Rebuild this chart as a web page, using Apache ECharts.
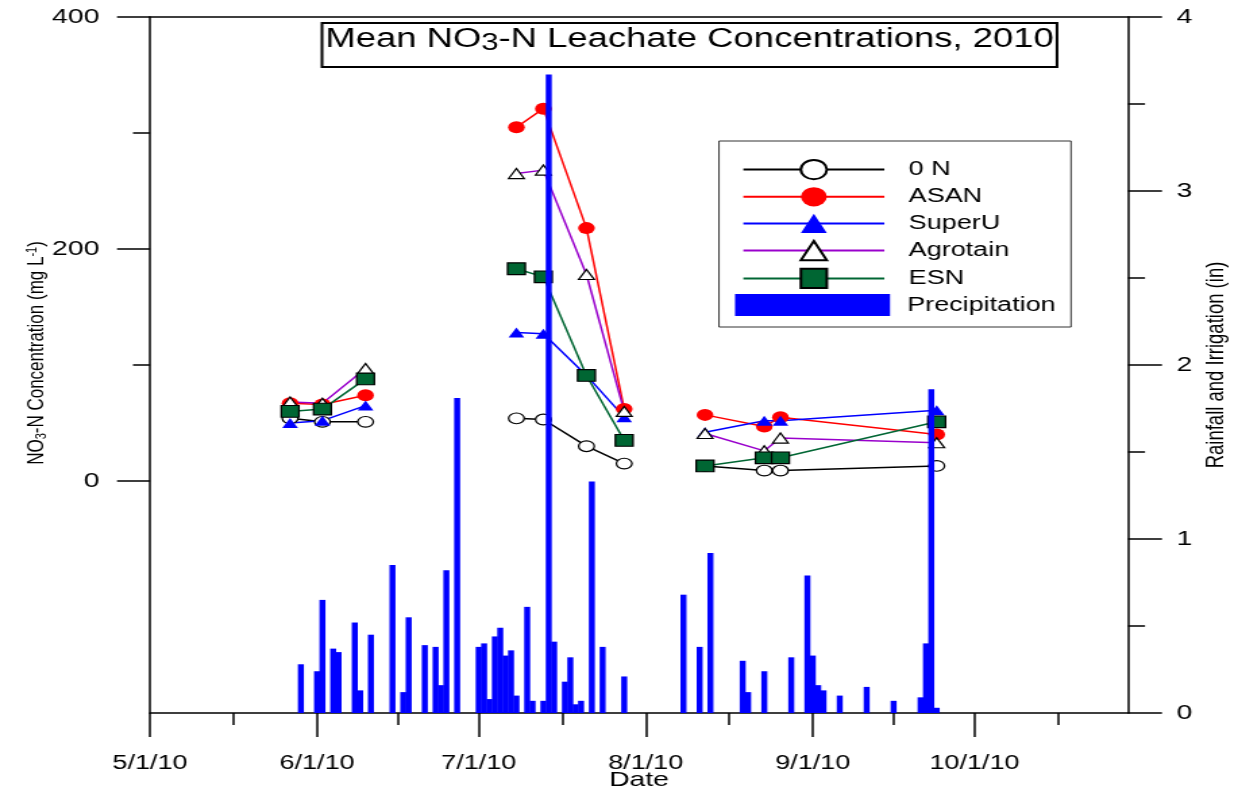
<!DOCTYPE html>
<html>
<head>
<meta charset="utf-8">
<title>Mean NO3-N Leachate Concentrations, 2010</title>
<script src="https://cdn.jsdelivr.net/npm/echarts@6/dist/echarts.min.js"></script>
<style>
    html, body { margin: 0; padding: 0; background: #fff; overflow: hidden; }
    /* the source figure is stretched sideways, so draw it narrower and widen it */
    #chart { width: 917px; height: 791px; transform: scaleX(1.35005); transform-origin: 0 0; }
</style>
</head>
<body>
<div id="chart"></div>
<script>
    var SX = 1238 / 917;
    function hx (x) { return x / SX; }   // reference px -> chart px, horizontal only
    var FONT = '"Liberation Sans", Arial, sans-serif';

    // leachate sampling dates, runs are drawn as separate line pieces
    var sampleDates = ['2010-05-27', '2010-06-02', '2010-06-10',
        '2010-07-08', '2010-07-13', '2010-07-21', '2010-07-28',
        '2010-08-12', '2010-08-23', '2010-08-26', '2010-09-24'];
    var sampleRun = [1, 1, 1, 2, 2, 2, 2, 3, 3, 3, 3];

    // NO3-N, mg/L
    var zeroN    = [54, 51, 51, 54, 53, 30, 15, 13, 9, 9, 13];
    var asan     = [67, 66, 74, 305, 321, 218, 62, 57, 47, 55, 40];
    var superU   = [50, 52, 65, 128, 127, 91, 55, 42, 52, 52, 61];
    var agrotain = [68, 67, 97, 265, 268, 178, 60, 41, 26, 37, 33];
    var esn      = [60, 62, 88, 183, 176, 91, 35, 13, 20, 20, 51];

    // rainfall + irrigation, inches
    var rainDates = ['2010-05-29', '2010-06-01', '2010-06-02', '2010-06-04', '2010-06-05',
        '2010-06-08', '2010-06-09', '2010-06-11', '2010-06-15', '2010-06-17', '2010-06-18',
        '2010-06-21', '2010-06-23', '2010-06-24', '2010-06-25', '2010-06-27',
        '2010-07-01', '2010-07-02', '2010-07-03', '2010-07-04', '2010-07-05', '2010-07-06',
        '2010-07-07', '2010-07-08', '2010-07-10', '2010-07-11', '2010-07-13', '2010-07-14',
        '2010-07-15', '2010-07-17', '2010-07-18', '2010-07-19', '2010-07-20', '2010-07-22',
        '2010-07-24', '2010-07-28',
        '2010-08-08', '2010-08-11', '2010-08-13', '2010-08-19', '2010-08-20', '2010-08-23',
        '2010-08-28', '2010-08-31',
        '2010-09-01', '2010-09-02', '2010-09-03', '2010-09-06', '2010-09-11', '2010-09-16',
        '2010-09-21', '2010-09-22', '2010-09-23', '2010-09-24'];
    var rainInches = [0.28, 0.24, 0.65, 0.37, 0.35,
        0.52, 0.13, 0.45, 0.85, 0.12, 0.55,
        0.39, 0.38, 0.16, 0.82, 1.81,
        0.38, 0.40, 0.08, 0.44, 0.49, 0.33,
        0.36, 0.10, 0.61, 0.07, 0.07, 3.67,
        0.41, 0.18, 0.32, 0.05, 0.07, 1.33,
        0.38, 0.21,
        0.68, 0.38, 0.92, 0.30, 0.12, 0.24,
        0.32, 0.79,
        0.33, 0.16, 0.13, 0.10, 0.15, 0.07,
        0.09, 0.40, 1.86, 0.03];

    var monthTicks = ['2010-05-01', '2010-06-01', '2010-07-01', '2010-08-01', '2010-09-01', '2010-10-01'];
    var midMonthTicks = ['2010-05-16T12:00', '2010-06-16', '2010-07-16T12:00', '2010-08-16T12:00',
        '2010-09-16', '2010-10-16T12:00'];
    var concTicks = [0, 200, 400];
    var concMinorTicks = [100, 300];

    function toTime (s) {
        return Date.parse(s.length > 10 ? s + ':00Z' : s + 'T00:00:00Z');
    }
    var tMin = Date.UTC(2010, 4, 1);
    var tMax = Date.UTC(2010, 9, 29, 12);

    function lineData (values) {
        var out = [];
        for (var i = 0; i < sampleDates.length; i++) {
            if (i > 0 && sampleRun[i] !== sampleRun[i - 1]) {
                out.push([toTime(sampleDates[i]), null]);   // break the line between runs
            }
            out.push([toTime(sampleDates[i]), values[i]]);
        }
        return out;
    }
    var rainData = [];
    for (var i = 0; i < rainDates.length; i++) {
        rainData.push([toTime(rainDates[i]), rainInches[i]]);
    }

    function lineSeries (name, values, color, symbol, size, fill, border) {
        return {
            name: name,
            type: 'line',
            xAxisIndex: 0,
            yAxisIndex: 0,
            data: lineData(values),
            symbol: symbol,
            symbolSize: size,
            showAllSymbol: true,
            lineStyle: { color: color, width: 1.5 },
            itemStyle: { color: fill, borderColor: border || fill, borderWidth: border ? 1.2 : 0 },
            z: 2
        };
    }

    var chart = echarts.init(document.getElementById('chart'), null, { renderer: 'canvas' });
    var option = {
        animation: false,
        backgroundColor: '#fff',
        textStyle: { fontFamily: FONT },
        title: {
            text: 'Mean NO{s|3}-N Leachate Concentrations, 2010',
            left: hx(689.5),
            top: 25,
            textAlign: 'center',
            padding: 0,
            textStyle: {
                fontFamily: FONT, fontSize: 27, fontWeight: 'normal', color: '#000',
                rich: { s: { fontFamily: FONT, fontSize: 23, color: '#000', padding: [7, 0, 0, 0] } }
            }
        },
        grid: {
            left: hx(150),
            right: 917 - hx(1128),
            top: 17,
            bottom: 78,
            containLabel: false,
            outerBoundsMode: 'none'
        },
        legend: [
            {
                data: ['0 N', 'ASAN', 'SuperU', 'Agrotain', 'ESN'],
                orient: 'vertical',
                left: hx(742),
                top: 159,
                padding: 0,
                itemWidth: hx(883) - hx(742),
                itemHeight: 24,
                itemGap: 6.6,
                selectedMode: false,
                textStyle: { fontFamily: FONT, fontSize: 20, color: '#000', padding: [0, 0, 0, 13] }
            },
            {
                data: ['Precipitation'],
                left: hx(735),
                top: 294,
                padding: 0,
                icon: 'rect',
                itemWidth: hx(890) - hx(735),
                itemHeight: 22,
                selectedMode: false,
                textStyle: { fontFamily: FONT, fontSize: 20, color: '#000', padding: [0, 0, 0, 7.7] }
            }
        ],
        graphic: [
            {
                type: 'rect',
                shape: { x: hx(322), y: 23, width: hx(1057) - hx(322), height: 44 },
                style: { fill: 'none', stroke: '#000', lineWidth: 2 },
                z: 1
            },
            {
                type: 'rect',
                shape: { x: hx(719), y: 141, width: hx(1071) - hx(719), height: 186 },
                style: { fill: 'none', stroke: '#333', lineWidth: 1 },
                z: 1
            }
        ],
        xAxis: [
            {
                type: 'value',
                position: 'bottom',
                min: tMin,
                max: tMax,
                name: 'Date',
                nameLocation: 'middle',
                nameGap: 57,
                nameMoveOverlap: false,
                nameTextStyle: { fontFamily: FONT, fontSize: 21, color: '#000' },
                axisLine: { show: true, onZero: false, lineStyle: { color: '#000', width: 1.5 } },
                axisTick: { show: true, customValues: monthTicks.map(toTime), length: 24, lineStyle: { color: '#000', width: 1.5 } },
                axisLabel: {
                    show: true,
                    customValues: monthTicks.map(toTime),
                    margin: 40,
                    fontFamily: FONT,
                    fontSize: 20,
                    color: '#000',
                    formatter: function (v) {
                        var d = new Date(v);
                        return (d.getUTCMonth() + 1) + '/' + d.getUTCDate() + '/' + String(d.getUTCFullYear()).slice(2);
                    }
                },
                splitLine: { show: false }
            },
            {
                type: 'value',
                position: 'bottom',
                min: tMin,
                max: tMax,
                axisLine: { show: false, onZero: false },
                axisTick: { show: true, customValues: midMonthTicks.map(toTime), length: 12, lineStyle: { color: '#000', width: 1.5 } },
                axisLabel: { show: false },
                splitLine: { show: false }
            },
            {
                type: 'value',
                position: 'top',
                min: tMin,
                max: tMax,
                axisLine: { show: true, onZero: false, lineStyle: { color: '#000', width: 1.5 } },
                axisTick: { show: false },
                axisLabel: { show: false },
                splitLine: { show: false }
            }
        ],
        yAxis: [
            {
                type: 'value',
                position: 'left',
                min: -200,
                max: 400,
                name: 'NO{sub|3}-N Concentration (mg L{sup|-1})',
                nameLocation: 'middle',
                nameGap: 75,
                nameRotate: 90,
                nameMoveOverlap: false,
                nameTextStyle: {
                    fontFamily: FONT, fontSize: 17, color: '#000', padding: [0, 0, 0, 24],
                    rich: {
                        sub: { fontFamily: FONT, fontSize: 11, color: '#000', padding: [7, 0, 0, 0] },
                        sup: { fontFamily: FONT, fontSize: 11, color: '#000', padding: [0, 0, 7, 0] }
                    }
                },
                axisLine: { show: true, onZero: false, lineStyle: { color: '#000', width: 1.5 } },
                axisTick: { show: true, customValues: concTicks, length: hx(33), lineStyle: { color: '#000', width: 1.5 } },
                axisLabel: { show: true, customValues: concTicks, margin: 37.5, fontFamily: FONT, fontSize: 21, color: '#000' },
                splitLine: { show: false }
            },
            {
                type: 'value',
                position: 'left',
                min: -200,
                max: 400,
                axisLine: { show: false, onZero: false },
                axisTick: { show: true, customValues: concMinorTicks, length: hx(17), lineStyle: { color: '#000', width: 1.5 } },
                axisLabel: { show: false },
                splitLine: { show: false }
            },
            {
                type: 'value',
                position: 'right',
                min: 0,
                max: 4,
                interval: 1,
                name: 'Rainfall and Irrigation (in)',
                nameLocation: 'middle',
                nameGap: 56,
                nameRotate: 90,
                nameMoveOverlap: false,
                nameTextStyle: { fontFamily: FONT, fontSize: 18.5, color: '#000' },
                axisLine: { show: true, onZero: false, lineStyle: { color: '#000', width: 1.5 } },
                axisTick: { show: true, length: hx(34), lineStyle: { color: '#000', width: 1.5 } },
                minorTick: { show: true, splitNumber: 2, length: hx(17), lineStyle: { color: '#000', width: 1.5 } },
                axisLabel: { show: true, margin: 36, fontFamily: FONT, fontSize: 21, color: '#000' },
                splitLine: { show: false },
                minorSplitLine: { show: false }
            }
        ],
        series: [
            lineSeries('0 N', zeroN, '#000000', 'circle', [11.6, 10.7], '#ffffff', '#000000'),
            lineSeries('ASAN', asan, '#ff0000', 'circle', [12.4, 12], '#ff0000'),
            lineSeries('SuperU', superU, '#0000ff', 'triangle', [11.6, 10], '#0000ff'),
            lineSeries('Agrotain', agrotain, '#9900cc', 'triangle', [11.6, 10], '#ffffff', '#000000'),
            lineSeries('ESN', esn, '#006633', 'rect', [13.1, 11.7], '#006633', '#000000'),
            {
                name: 'Precipitation',
                type: 'bar',
                xAxisIndex: 0,
                yAxisIndex: 2,
                barWidth: hx(6),
                data: rainData,
                itemStyle: { color: '#0000ff' },
                z: 5
            }
        ]
    };
    chart.setOption(option);
</script>
</body>
</html>
